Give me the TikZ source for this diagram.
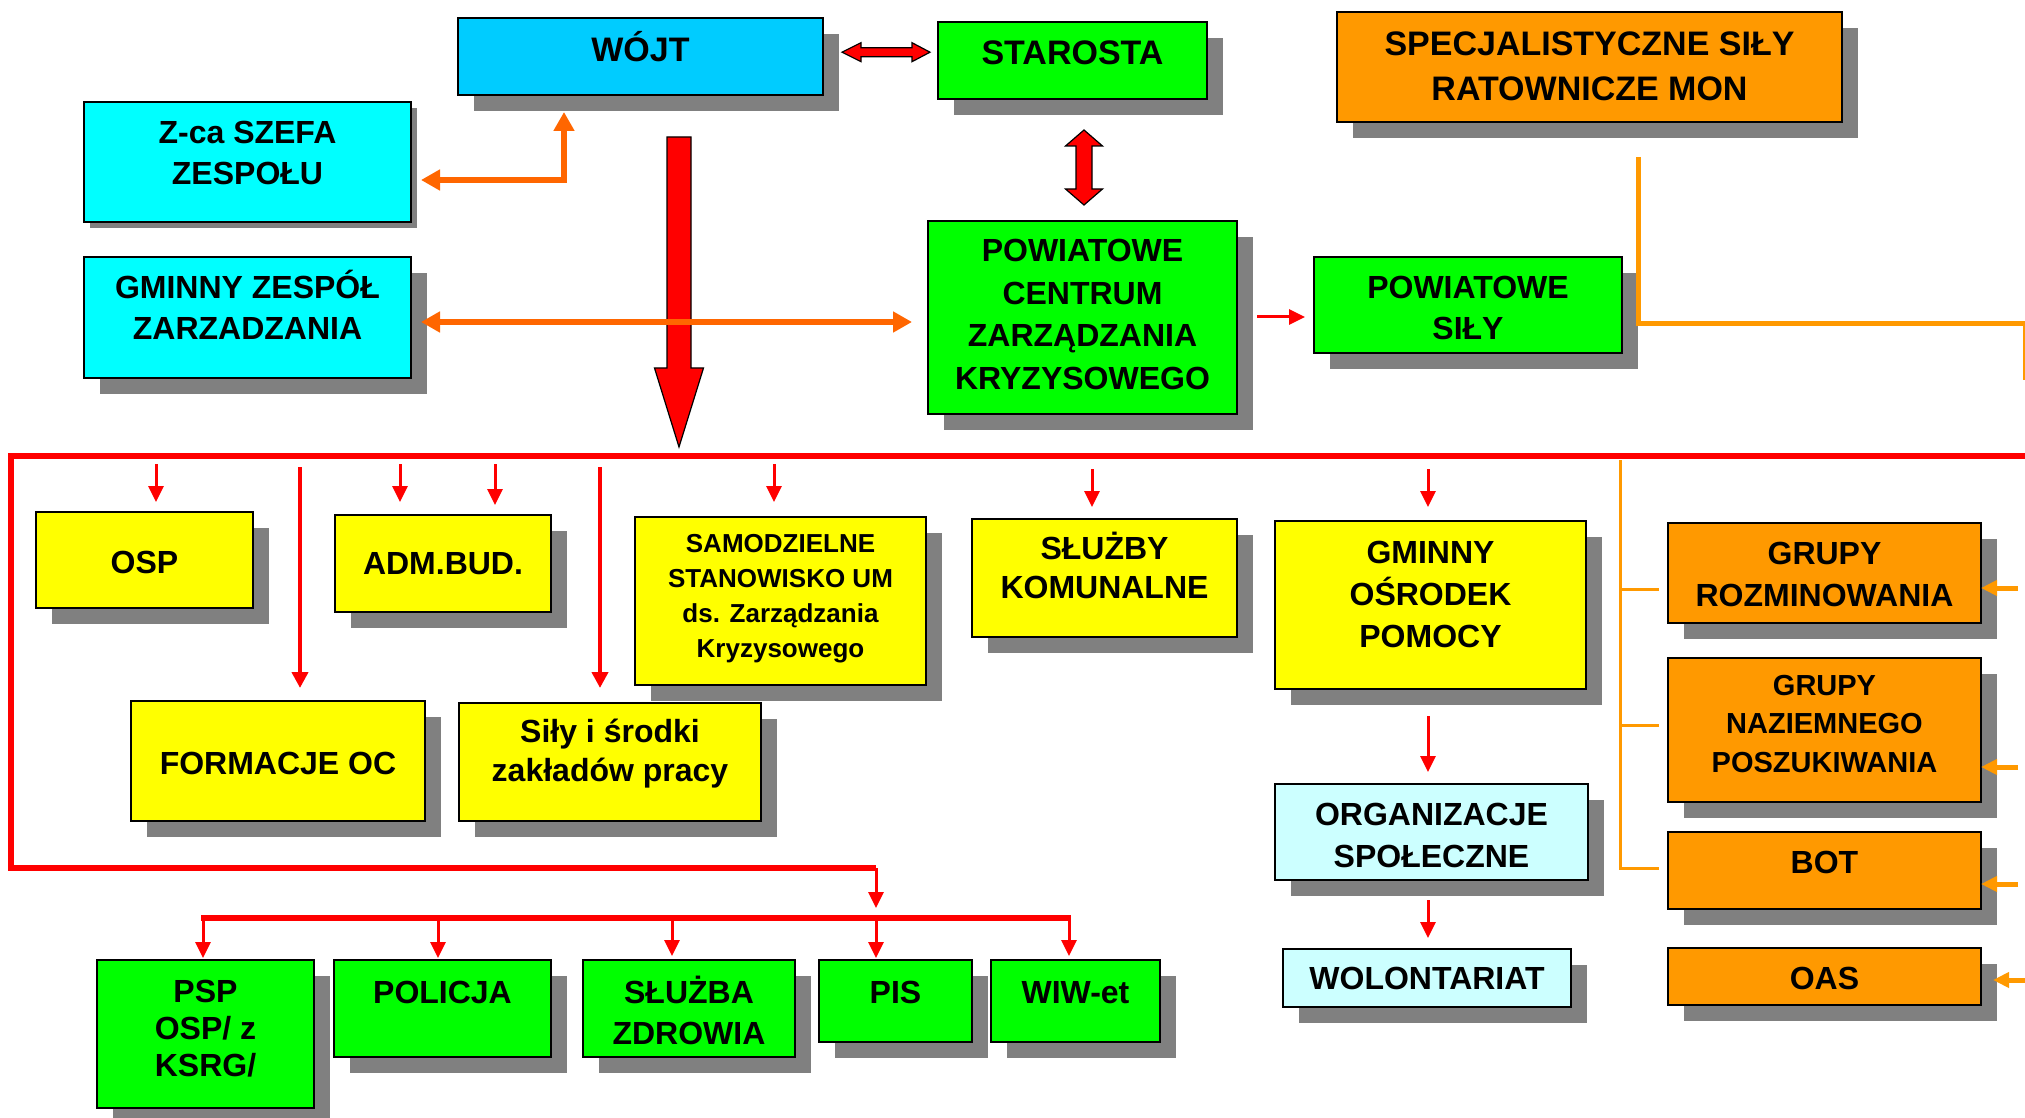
\documentclass[tikz,border=0pt]{standalone}
\usepackage{fontspec}
\setmainfont{Liberation Sans}
\usetikzlibrary{arrows.meta,fit}
\definecolor{cWojt}{HTML}{00CCFF}
\definecolor{cCyan}{HTML}{00FFFF}
\definecolor{cGreen}{HTML}{00FF00}
\definecolor{cYellow}{HTML}{FFFF00}
\definecolor{cOrange}{HTML}{FF9900}
\definecolor{cLight}{HTML}{CCFFFF}
\definecolor{cShadow}{HTML}{808080}
\definecolor{cRed}{HTML}{FF0000}
\definecolor{cOrRed}{HTML}{FF6600}
\newcommand\sx{\rule[-0.184em]{0pt}{1.084em}}
\newcommand\fs[2]{\bfseries\fontsize{#1}{#2}\selectfont}
\newcommand\bx[7]{%
  \fill[cShadow] ({#2+#7},{#3+#7}) rectangle ({#4+#7},{#5+#7});
  \node[box,fill=#6,fit={(#2,#3) (#4,#5)}] (#1) {};}
\tikzset{
  box/.style={draw=black,line width=1.2pt,inner sep=0pt,outer sep=0pt},
  txt/.style={inner sep=0pt,align=center,text=black},
  rarr/.style={draw=cRed,line width=1.5pt,-{Triangle[width=7.5pt,length=8pt]}},
  rarrL/.style={draw=cRed,line width=2pt,-{Triangle[width=8pt,length=8pt]}},
  bus/.style={draw=cRed,line width=3pt},
  oarr/.style={draw=cOrRed,line width=3pt,{Triangle[width=10pt,length=9.5pt]}-{Triangle[width=10pt,length=9.5pt]}},
  oarrU/.style={draw=cOrRed,line width=3pt,{Triangle[width=10pt,length=9.5pt]}-{Triangle[width=10pt,length=9.5pt]}},
  oline/.style={draw=cOrange,line width=1.5pt},
  oarrR/.style={draw=cOrange,line width=2.5pt,-{Triangle[width=7.5pt,length=8pt]}},
  blockarrow/.style={fill=cRed,draw=black,line width=0.6pt,line join=miter}
}
\begin{document}
\begin{tikzpicture}[x=0.5pt,y=-0.5pt]
\fill[white] (0,0) rectangle (2025,1118);
\useasboundingbox (0,0) rectangle (2025,1118);

% ---------- boxes ----------
\bx{wojt}{458}{18}{823}{95}{cWojt}{16}
\bx{starosta}{938}{22}{1207}{99}{cGreen}{16}
\bx{mon}{1337}{12}{1842}{122}{cOrange}{16}
\bx{zca}{84}{102}{411}{222}{cCyan}{6}
\bx{gz}{84}{257}{411}{378}{cCyan}{16}
\bx{pczk}{928}{221}{1237}{414}{cGreen}{16}
\bx{psily}{1314}{257}{1622}{353}{cGreen}{16}
\bx{osp}{36}{512}{253}{608}{cYellow}{16}
\bx{adm}{335}{515}{551}{612}{cYellow}{16}
\bx{samo}{635}{517}{926}{685}{cYellow}{16}
\bx{koml}{972}{519}{1237}{637}{cYellow}{16}
\bx{gop}{1275}{521}{1586}{689}{cYellow}{16}
\bx{form}{131}{701}{425}{821}{cYellow}{16}
\bx{sily}{459}{703}{761}{821}{cYellow}{16}
\bx{org}{1275}{784}{1588}{880}{cLight}{16}
\bx{wol}{1283}{949}{1571}{1007}{cLight}{16}
\bx{roz}{1668}{523}{1981}{623}{cOrange}{16}
\bx{naz}{1668}{658}{1981}{802}{cOrange}{16}
\bx{bot}{1668}{832}{1981}{909}{cOrange}{16}
\bx{oas}{1668}{948}{1981}{1005}{cOrange}{16}
\bx{psp}{97}{960}{314}{1108}{cGreen}{16}
\bx{pol}{334}{960}{551}{1057}{cGreen}{16}
\bx{szdr}{583}{960}{795}{1057}{cGreen}{16}
\bx{pis}{819}{960}{972}{1042}{cGreen}{16}
\bx{wiw}{991}{960}{1160}{1042}{cGreen}{16}

% ---------- texts ----------
\node[txt,font=\fs{17}{22}] (t-wojt) at (640.5,49.5) {\sx WÓJT};
\node[txt,font=\fs{17}{22}] (t-starosta) at (1072.5,52) {\sx STAROSTA};
\node[txt,font=\fs{17}{22.5}] (t-mon) at (1589.5,66) {\sx SPECJALISTYCZNE SIŁY\\\sx RATOWNICZE MON};
\node[txt,font=\fs{16}{20.5}] (t-zca) at (247.5,152.5) {\sx Z-ca SZEFA\\\sx ZESPOŁU};
\node[txt,font=\fs{16}{20.5}] (t-gz) at (247.5,307.5) {\sx GMINNY ZESPÓŁ\\\sx ZARZADZANIA};
\node[txt,font=\fs{16}{21.3}] (t-pczk) at (1082.5,314) {\sx POWIATOWE\\\sx CENTRUM\\\sx ZARZĄDZANIA\\\sx KRYZYSOWEGO};
\node[txt,font=\fs{16}{20.5}] (t-psily) at (1468,307.5) {\sx POWIATOWE\\\sx SIŁY};
\node[txt,font=\fs{16}{20.5}] (t-osp) at (144.5,562) {\sx OSP};
\node[txt,font=\fs{16}{20.5}] (t-adm) at (443,563) {\sx ADM.BUD.};
\node[txt,font=\fs{13}{17.5}] (t-samo) at (780.5,596.5) {\sx SAMODZIELNE\\\sx STANOWISKO UM\\\sx ds. Zarządzania\\\sx Kryzysowego};
\node[txt,font=\fs{16}{19.5}] (t-koml) at (1104.5,567.5) {\sx SŁUŻBY\\\sx KOMUNALNE};
\node[txt,font=\fs{16}{21}] (t-gop) at (1430.5,594) {\sx GMINNY\\\sx OŚRODEK\\\sx POMOCY};
\node[txt,font=\fs{16}{20.5}] (t-form) at (278,763) {\sx FORMACJE OC};
\node[txt,font=\fs{16}{19.75}] (t-sily) at (610,751) {\sx Siły i środki\\\sx zakładów pracy};
\node[txt,font=\fs{16}{20.75}] (t-org) at (1431.5,835) {\sx ORGANIZACJE\\\sx SPOŁECZNE};
\node[txt,font=\fs{16}{20.5}] (t-wol) at (1427,978) {\sx WOLONTARIAT};
\node[txt,font=\fs{16}{21}] (t-roz) at (1824.5,574) {\sx GRUPY\\\sx ROZMINOWANIA};
\node[txt,font=\fs{14.5}{19.25}] (t-naz) at (1824.5,723.5) {\sx GRUPY\\\sx NAZIEMNEGO\\\sx POSZUKIWANIA};
\node[txt,font=\fs{16}{20.5}] (t-bot) at (1824.5,862) {\sx BOT};
\node[txt,font=\fs{16}{20.5}] (t-oas) at (1824.5,978) {\sx OAS};
\node[txt,font=\fs{16}{18.5}] (t-psp) at (205.5,1028) {\sx PSP\\\sx OSP/ z\\\sx KSRG/};
\node[txt,font=\fs{16}{20.5}] (t-pol) at (442.5,992) {\sx POLICJA};
\node[txt,font=\fs{16}{20.5}] (t-szdr) at (689,1012.5) {\sx SŁUŻBA\\\sx ZDROWIA};
\node[txt,font=\fs{16}{20.5}] (t-pis) at (895.5,992) {\sx PIS};
\node[txt,font=\fs{16}{20.5}] (t-wiw) at (1075.5,992) {\sx WIW-et};

% ---------- block arrows ----------
\draw[blockarrow] (842,52.2) -- (861,42.7) -- (861,47.7) -- (912,47.7) -- (912,42.7) -- (930,52.2)
  -- (912,61.7) -- (912,56.7) -- (861,56.7) -- (861,61.7) -- cycle;
\draw[blockarrow] (1084,130) -- (1102.5,146) -- (1092,146) -- (1092,189) -- (1102.5,189) -- (1084,205)
  -- (1065.5,189) -- (1076,189) -- (1076,146) -- (1065.5,146) -- cycle;
\draw[blockarrow] (667,137) -- (691,137) -- (691,368) -- (703.5,368) -- (679,447) -- (654.5,368)
  -- (667,368) -- cycle;

% ---------- orange connectors (top) ----------
\coordinate (zc) at (564,180);
\draw[oarr,line join=miter,shorten <=5pt,shorten >=8.5pt] (zc -| zca.east) -- (zc) -- (zc |- wojt.south);
\coordinate (gy) at (600,322);
\draw[oarr,shorten <=5pt,shorten >=8pt] (gy -| gz.east) -- (gy -| pczk.west);
\coordinate (py) at (1280,317);
\draw[rarr,shorten <=10pt,shorten >=4.5pt] (py -| pczk.east) -- (py -| psily.west);

% ---------- MON line ----------
\coordinate (m0) at (1638,157);
\coordinate (m1) at (1638,324);
\coordinate (m2) at (2025,324);
\coordinate (m3) at (2025,380);
\draw[oline,line width=2.5pt,line join=miter] (m0) -- (m1) -- (m2) -- (m3);

% ---------- red bus ----------
\coordinate (b0) at (2025,456);
\coordinate (b1) at (11,456);
\coordinate (b2) at (11,868);
\coordinate (b3) at (876,868);
\draw[bus,line join=miter] (b0) -- (b1) -- (b2) -- (b3);
\coordinate (c0) at (201,918);
\coordinate (c1) at (1071,918);
\draw[bus] (c0) -- (c1);
\coordinate (c2) at (876,918);
\draw[rarr,shorten >=5pt] (b3) -- (c2);

% taps from upper bus
\coordinate (a1) at (156,464);
\draw[rarr,shorten >=5pt] (a1) -- (a1 |- osp.north);
\coordinate (a2) at (300,467);
\draw[rarrL,shorten >=6.5pt] (a2) -- (a2 |- form.north);
\coordinate (a3) at (400,464);
\draw[rarr,shorten >=6.5pt] (a3) -- (a3 |- adm.north);
\coordinate (a4) at (495,464);
\draw[rarr,shorten >=5pt] (a4) -- (a4 |- adm.north);
\coordinate (a5) at (600,467);
\draw[rarrL,shorten >=7.5pt] (a5) -- (a5 |- sily.north);
\coordinate (a6) at (774,464);
\draw[rarr,shorten >=7.5pt] (a6) -- (a6 |- samo.north);
\coordinate (a7) at (1092,469);
\draw[rarr,shorten >=6pt] (a7) -- (a7 |- koml.north);
\coordinate (a8) at (1428,469);
\draw[rarr,shorten >=7pt] (a8) -- (a8 |- gop.north);
\draw[rarr,shorten <=13.5pt,shorten >=6pt] (a8 |- gop.south) -- (a8 |- org.north);
\draw[rarr,shorten <=10pt,shorten >=5.5pt] (a8 |- org.south) -- (a8 |- wol.north);

% taps from lower bus
\coordinate (d1) at (203,918);
\draw[rarr,shorten >=1pt] (d1) -- (d1 |- psp.north);
\coordinate (d2) at (438,918);
\draw[rarr,shorten >=1pt] (d2) -- (d2 |- pol.north);
\coordinate (d3) at (672,918);
\draw[rarr,shorten >=2pt] (d3) -- (d3 |- szdr.north);
\coordinate (d4) at (876,918);
\draw[rarr,shorten >=1pt] (d4) -- (d4 |- pis.north);
\coordinate (d5) at (1069,918);
\draw[rarr,shorten >=2pt] (d5) -- (d5 |- wiw.north);

% ---------- orange right structure ----------
\coordinate (o0) at (1620,460);
\coordinate (o1) at (1620,868);
\coordinate (o2) at (1659,868);
\coordinate (o3) at (1620,589);
\coordinate (o4) at (1659,589);
\coordinate (o5) at (1620,725);
\coordinate (o6) at (1659,725);
\draw[oline,line join=miter] (o0) -- (o1) -- (o2);
\draw[oline] (o3) -- (o4);
\draw[oline] (o5) -- (o6);

\coordinate (r1) at (2018,588);
\draw[oarrR] (r1) -- (r1 -| roz.east);
\coordinate (r2) at (2018,767);
\draw[oarrR] (r2) -- (r2 -| naz.east);
\coordinate (r3) at (2018,884);
\draw[oarrR] (r3) -- (r3 -| bot.east);
\coordinate (r4) at (2025,980);
\draw[oarrR,shorten >=6pt] (r4) -- (r4 -| oas.east);
\end{tikzpicture}
\end{document}
